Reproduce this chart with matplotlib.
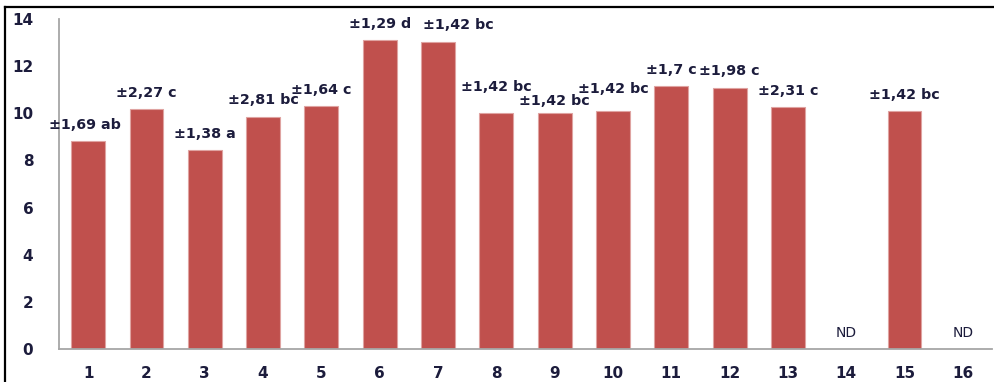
import numpy as np
import matplotlib
matplotlib.use("Agg")
import matplotlib.pyplot as plt
from matplotlib.lines import Line2D

# Sample numbers and mean values (ND = not detected)
samples = [str(i) for i in range(1, 17)]
means = [8.84, 10.19, 8.46, 9.85, 10.31, 13.10, 13.03, 10.01, 10.01, 10.08,
         11.14, 11.07, 10.25, None, 10.08, None]
sd_labels = ["±1,69 ab", "±2,27 c", "±1,38 a", "±2,81 bc", "±1,64 c", "±1,29 d",
             "±1,42 bc", "±1,42 bc", "±1,42 bc", "±1,42 bc", "±1,7 c", "±1,98 c",
             "±2,31 c", "ND", "±1,42 bc", "ND"]
y_ticks = [0, 2, 4, 6, 8, 10, 12, 14]

# label offsets from each bar top (points): horizontal, vertical
label_shift = [-2, 0, 0, 0, 0, 0, 15, 0, 0, 0, 0, 0, 0, 0, 0, 0]
label_lift = [11.5, 11.5, 11.5, 12.2, 11.5, 11.5, 11.9, 18.7, 8.4, 15.8,
              12.0, 12.0, 12.0, 11.5, 11.5, 11.5]

W, H = 995, 382
fig = plt.figure(figsize=(W / 100, H / 100), dpi=100)
ax = fig.add_axes([59 / W, 33 / H, 933 / W, 330 / H])

text_color = "#1c1c3c"
bar_color = "#C0504D"

x = np.arange(1, len(samples) + 1)
for xi, m in zip(x, means):
    if m is not None:
        ax.bar(xi, m, width=0.58, color=bar_color, edgecolor="#DFA3A1",
               linewidth=0.8, zorder=2)

for xi, m, lab, dx, dy in zip(x, means, sd_labels, label_shift, label_lift):
    if m is None:
        ax.annotate(lab, (xi, 0), xytext=(dx, dy), textcoords="offset points",
                    ha="center", va="center", fontsize=10, color=text_color)
    else:
        ax.annotate(lab, (xi, m), xytext=(dx, dy), textcoords="offset points",
                    ha="center", va="center", fontsize=10.3, fontweight="bold",
                    color=text_color)

ax.set_xlim(0.5, len(samples) + 0.5)
ax.set_ylim(0, 14)
ax.set_xticks(x)
ax.set_xticklabels(samples)
ax.set_yticks(y_ticks)
ax.set_yticklabels([str(t) for t in y_ticks])
ax.tick_params(axis="both", length=0, labelsize=11, labelcolor=text_color)
ax.tick_params(axis="y", pad=18.5)
ax.tick_params(axis="x", pad=12)
for lbl in ax.get_xticklabels() + ax.get_yticklabels():
    lbl.set_fontweight("bold")

for side in ("top", "right"):
    ax.spines[side].set_visible(False)
for side in ("left", "bottom"):
    ax.spines[side].set_color("#a6a6a6")
    ax.spines[side].set_linewidth(1.3)

# outer frame (top and left edges)
fig.add_artist(Line2D([5 / W, 1.0], [1 - 7 / H, 1 - 7 / H], color="black",
                      linewidth=1.6, transform=fig.transFigure))
fig.add_artist(Line2D([5 / W, 5 / W], [0, 1 - 7 / H], color="black",
                      linewidth=1.6, transform=fig.transFigure))

fig.savefig("out.png", dpi=100)
